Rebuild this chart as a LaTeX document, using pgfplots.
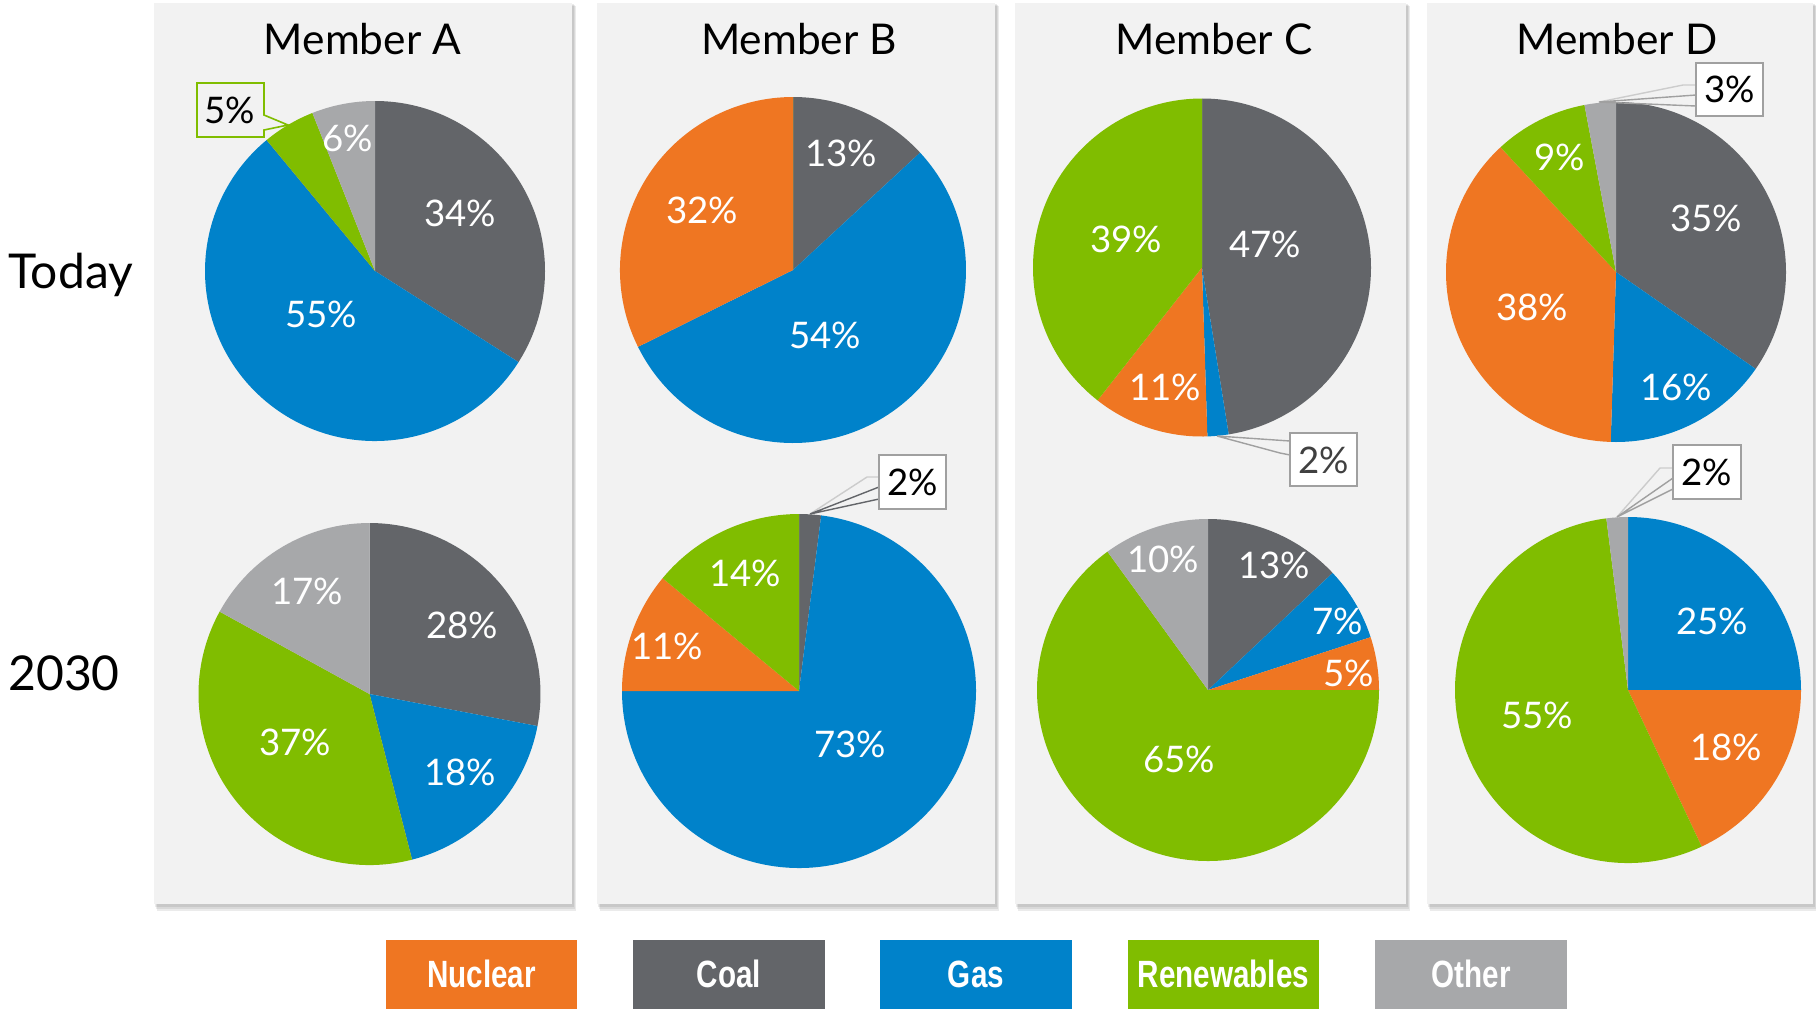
\documentclass[border=0pt]{standalone}
\usepackage{pgfplots}
\pgfplotsset{compat=1.18}
\usepackage{fontspec}
\setmainfont{Lato}
\newfontfamily\legfont[FakeStretch=0.78]{Liberation Sans}
\definecolor{nuc}{HTML}{EF7622}
\definecolor{coal}{HTML}{636569}
\definecolor{gas}{HTML}{0082CA}
\definecolor{ren}{HTML}{80BD00}
\definecolor{oth}{HTML}{A7A8AA}
\definecolor{bg}{HTML}{F2F2F2}
\definecolor{callgray}{HTML}{A0A0A0}
\newcommand\slice[6]{\edef\temp{\noexpand\fill[#6] (axis cs:#1,#2) -- ++(#4:#3*0.5pt) arc[start angle=#4, end angle=#5, radius=#3*0.5pt] -- cycle;}\temp}
% pie: cx cy r coal gas nuclear renewables other (clockwise from 12 o'clock)
\newcommand\pie[8]{%
 \pgfmathsetmacro\tot{#4+#5+#6+#7+#8}%
 \pgfmathsetmacro\pA{90}%
 \pgfmathsetmacro\pB{90-(#4)/\tot*360}%
 \pgfmathsetmacro\pC{90-(#4+#5)/\tot*360}%
 \pgfmathsetmacro\pD{90-(#4+#5+#6)/\tot*360}%
 \pgfmathsetmacro\pE{90-(#4+#5+#6+#7)/\tot*360}%
 \pgfmathsetmacro\pF{-270}%
 \slice{#1}{#2}{#3}{\pA}{\pB}{coal}%
 \slice{#1}{#2}{#3}{\pB}{\pC}{gas}%
 \slice{#1}{#2}{#3}{\pC}{\pD}{nuc}%
 \slice{#1}{#2}{#3}{\pD}{\pE}{ren}%
 \slice{#1}{#2}{#3}{\pE}{\pF}{oth}%
}
\newcommand\panel[4]{%
 \fill[black,opacity=0.08] (axis cs:#1+1,#3+1) rectangle (axis cs:#2+2,#4+3);
 \fill[black,opacity=0.08] (axis cs:#1+2,#3+2) rectangle (axis cs:#2+3,#4+5);
 \fill[black,opacity=0.08] (axis cs:#1+3,#3+3) rectangle (axis cs:#2+4,#4+7);
 \fill[bg] (axis cs:#1,#3) rectangle (axis cs:#2,#4);
}
\tikzset{pct/.style={text=white,font=\fontsize{18.3}{20}\selectfont,inner sep=0pt},
 cpct/.style={text=black,font=\fontsize{18.3}{20}\selectfont,inner sep=0pt},
 leg/.style={text=white,font=\legfont\bfseries\fontsize{19}{21}\selectfont,inner sep=0pt},
 ttl/.style={font=\fontsize{21.2}{25}\selectfont}}
\begin{document}
\begin{tikzpicture}
\path[use as bounding box] (0,0) rectangle (908pt,504.5pt);
\begin{axis}[at={(0,0)},anchor=south west,x=0.5pt,y=0.5pt,xmin=0,xmax=1816,ymin=0,ymax=1009,
 y dir=reverse,hide axis,scale only axis,clip=false]
% panels
\panel{154}{572}{3}{904}
\panel{597}{995}{3}{904}
\panel{1015}{1406}{3}{904}
\panel{1427}{1813}{3}{904}
% titles
\node[ttl] at (axis cs:362.5,39) {Member A};
\node[ttl] at (axis cs:799,39) {Member B};
\node[ttl] at (axis cs:1214,39) {Member C};
\node[ttl] at (axis cs:1617,39) {Member D};
% row labels
\node[font=\fontsize{24}{28}\selectfont,anchor=west,inner sep=0pt] at (axis cs:8,275) {Today};
\node[font=\fontsize{24}{28}\selectfont,anchor=west,inner sep=0pt] at (axis cs:8,673) {2030};
% pies: coal gas nuclear renewables other
\pie{375}{271}{170}{34}{55}{0}{5}{6}
\pie{369.5}{694}{171}{28}{18}{0}{37}{17}
\pie{793}{270}{173}{13}{54}{32}{0}{0}
\pie{799}{691}{177}{2}{73}{11}{14}{0}
\pie{1202}{267.5}{169}{47}{2}{11}{39}{0}
\pie{1208}{690}{171}{13}{7}{5}{65}{10}
\pie{1616}{272}{170}{35}{16}{38}{9}{3}
\pie{1628}{690}{173}{0}{25}{18}{55}{2}
% labels in slices
\node[pct] at (axis cs:460,213) {34\%};
\node[pct] at (axis cs:321,314) {55\%};
\node[pct] at (axis cs:347.5,138) {6\%};
\node[pct] at (axis cs:462,625) {28\%};
\node[pct] at (axis cs:460,772.5) {18\%};
\node[pct] at (axis cs:295,742) {37\%};
\node[pct] at (axis cs:307,591) {17\%};
\node[pct] at (axis cs:841,153) {13\%};
\node[pct] at (axis cs:702,210) {32\%};
\node[pct] at (axis cs:825,335) {54\%};
\node[pct] at (axis cs:745,573) {14\%};
\node[pct] at (axis cs:667,646) {11\%};
\node[pct] at (axis cs:850,744) {73\%};
\node[pct] at (axis cs:1265,244) {47\%};
\node[pct] at (axis cs:1126,239) {39\%};
\node[pct] at (axis cs:1165,387) {11\%};
\node[pct] at (axis cs:1274,565) {13\%};
\node[pct] at (axis cs:1338,621) {7\%};
\node[pct] at (axis cs:1349,673) {5\%};
\node[pct] at (axis cs:1163,559) {10\%};
\node[pct] at (axis cs:1179,759) {65\%};
\node[pct] at (axis cs:1706,218) {35\%};
\node[pct] at (axis cs:1532,307) {38\%};
\node[pct] at (axis cs:1676,387) {16\%};
\node[pct] at (axis cs:1560,157.5) {9\%};
\node[pct] at (axis cs:1712,621) {25\%};
\node[pct] at (axis cs:1726,747) {18\%};
\node[pct] at (axis cs:1537,715) {55\%};
% callouts
\draw[ren,line width=0.8pt,fill=bg] (axis cs:197,83) -- (axis cs:264,83) -- (axis cs:264,115) -- (axis cs:288,125) -- (axis cs:264,130) -- (axis cs:264,137) -- (axis cs:197,137) -- cycle;
\node[cpct] at (axis cs:230,110) {5\%};
% B 2030
\draw[black!20,line width=0.7pt] (axis cs:810,514) -- (axis cs:867,477) -- (axis cs:879,477);
\draw[coal,line width=0.7pt] (axis cs:879,487) -- (axis cs:810,514) -- (axis cs:879,499);
\draw[callgray,line width=0.8pt,fill=white] (axis cs:879,455) rectangle (axis cs:946,509);
\node[cpct] at (axis cs:912.5,482) {2\%};
% C today
\draw[callgray,line width=0.7pt] (axis cs:1290,441) -- (axis cs:1217,436) -- (axis cs:1280,453) -- (axis cs:1290,455);
\draw[callgray,line width=0.8pt,fill=white] (axis cs:1290,433) rectangle (axis cs:1357,486);
\node[cpct,text=black!75] at (axis cs:1323.5,460) {2\%};
% D today
\draw[black!20,line width=0.7pt] (axis cs:1599,102) -- (axis cs:1683,85) -- (axis cs:1696,85);
\draw[callgray,line width=0.7pt] (axis cs:1696,95) -- (axis cs:1599,102) -- (axis cs:1696,106);
\draw[callgray,line width=0.8pt,fill=white] (axis cs:1696,63) rectangle (axis cs:1763,116);
\node[cpct] at (axis cs:1729.5,89.5) {3\%};
% D 2030
\draw[black!20,line width=0.7pt] (axis cs:1617,517) -- (axis cs:1660,468) -- (axis cs:1673,468);
\draw[callgray,line width=0.7pt] (axis cs:1673,478) -- (axis cs:1617,517) -- (axis cs:1673,489);
\draw[callgray,line width=0.8pt,fill=white] (axis cs:1673,445) rectangle (axis cs:1741,499);
\node[cpct] at (axis cs:1707,472) {2\%};
% legend
\fill[nuc] (axis cs:386,940) rectangle (axis cs:577,1009);
\fill[coal] (axis cs:633,940) rectangle (axis cs:825,1009);
\fill[gas] (axis cs:880,940) rectangle (axis cs:1072,1009);
\fill[ren] (axis cs:1128,940) rectangle (axis cs:1319,1009);
\fill[oth] (axis cs:1375,940) rectangle (axis cs:1567,1009);
\node[leg] at (axis cs:481.5,974) {Nuclear};
\node[leg] at (axis cs:729,974) {Coal};
\node[leg] at (axis cs:976,974) {Gas};
\node[leg] at (axis cs:1223.5,974) {Renewables};
\node[leg] at (axis cs:1471,974) {Other};
\end{axis}
\end{tikzpicture}
\end{document}
